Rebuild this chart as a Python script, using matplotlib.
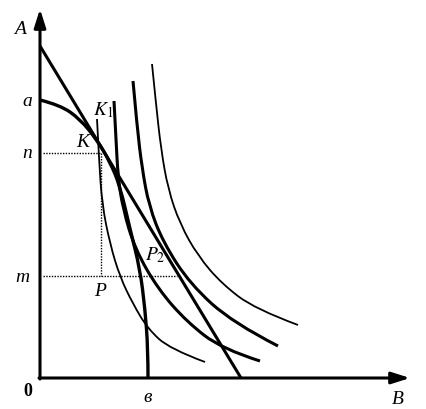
import numpy as np
import matplotlib
matplotlib.use("Agg")
from matplotlib import pyplot as plt
from matplotlib.path import Path
from matplotlib.patches import PathPatch

# curves, (B, A) in chart units
ppfB = [0.0, 2.0, 4.0, 5.7, 7.0, 8.0, 9.0, 10.0, 10.5, 10.8, 10.8]
ppfA = [27.8, 27.3, 25.9, 23.8, 21.6, 19.2, 14.9, 10.9, 6.9, 2.9, 0.0]

lineB = [0.0, 20.1]
lineA = [33.2, 0.0]

i0B = [5.7, 5.9, 6.2, 7.0, 8.0, 9.3, 10.8, 13.0, 16.5]
i0A = [25.9, 21.9, 17.4, 13.4, 10.1, 7.4, 4.9, 2.9, 1.6]

i1B = [7.4, 7.6, 7.8, 8.3, 9.5, 11.8, 14.7, 18.2, 22.0]
i1A = [27.7, 23.9, 20.1, 16.9, 12.9, 8.9, 5.6, 2.9, 1.7]

i2B = [9.3, 9.7, 10.2, 10.9, 12.3, 15.0, 19.3, 23.8]
i2A = [29.7, 25.2, 21.0, 17.2, 13.6, 9.4, 5.5, 3.2]

i3B = [11.2, 11.6, 12.1, 12.8, 14.0, 15.8, 18.2, 21.5, 25.8]
i3A = [31.4, 27.4, 22.9, 18.9, 15.4, 12.2, 9.4, 6.9, 5.3]

nA, mA = 22.5, 10.2
dropB = 6.1
mEndB = 13.7

labels = [("A", -2.0, 35.0), ("a", -1.3, 27.8), ("n", -1.3, 22.5), ("m", -1.8, 10.1),
          ("в", 10.8, -1.9), ("B", 35.8, -2.1), ("K", 4.3, 23.6), ("P", 6.0, 8.7)]


def smooth(ax, xs, ys, lw):
    # quadratic bezier through midpoints so the hand drawn curves look round
    pts = list(zip(xs, ys))
    verts = [pts[0]]
    codes = [Path.MOVETO]
    for i in range(1, len(pts) - 1):
        mid = ((pts[i][0] + pts[i + 1][0]) / 2, (pts[i][1] + pts[i + 1][1]) / 2)
        if i == len(pts) - 2:
            mid = pts[i + 1]
        verts += [pts[i], mid]
        codes += [Path.CURVE3, Path.CURVE3]
    ax.add_patch(PathPatch(Path(verts, codes), fill=False, lw=lw, ec="black", capstyle="butt"))


fig = plt.figure(figsize=(4.26, 4.10), dpi=100)
ax = fig.add_axes([0, 0, 1, 1])
ax.set_xlim(-4.0, 38.6)
ax.set_ylim(-3.1, 37.9)
ax.axis("off")

# axes with arrows
ax.annotate("", xy=(0, 36.9), xytext=(0, -0.1),
            arrowprops=dict(arrowstyle="-|>,head_length=1.1,head_width=0.35", lw=2.2, color="black",
                            shrinkA=0, shrinkB=0))
ax.annotate("", xy=(37.0, 0), xytext=(-0.1, 0),
            arrowprops=dict(arrowstyle="-|>,head_length=1.1,head_width=0.35", lw=2.2, color="black",
                            shrinkA=0, shrinkB=0))

ax.plot(lineB, lineA, color="black", lw=2.2, solid_capstyle="butt")
smooth(ax, ppfB, ppfA, 2.4)
smooth(ax, i0B, i0A, 1.3)
smooth(ax, i1B, i1A, 2.2)
smooth(ax, i2B, i2A, 2.2)
smooth(ax, i3B, i3A, 1.3)

# dotted guides
ax.plot([0.3, dropB], [nA, nA], color="black", lw=1.0, ls=(0, (1, 1)))
ax.plot([dropB, dropB], [nA, mA], color="black", lw=1.0, ls=(0, (1, 1)))
ax.plot([0.3, mEndB], [mA, mA], color="black", lw=1.0, ls=(0, (1, 1)))

font = dict(family="Liberation Serif", style="italic", fontsize=14, ha="center", va="center")
for t, x, y in labels:
    ax.text(x, y, t, **font)
ax.text(6.3, 26.9, "$K_1$", fontsize=14, ha="center", va="center",
        math_fontfamily="stix")
ax.text(11.5, 12.4, "$P_2$", fontsize=14, ha="center", va="center",
        math_fontfamily="stix")
ax.text(-1.2, -1.3, "0", family="Liberation Serif", fontweight="bold", fontsize=13,
        ha="center", va="center")

fig.savefig("out.png", dpi=100)
